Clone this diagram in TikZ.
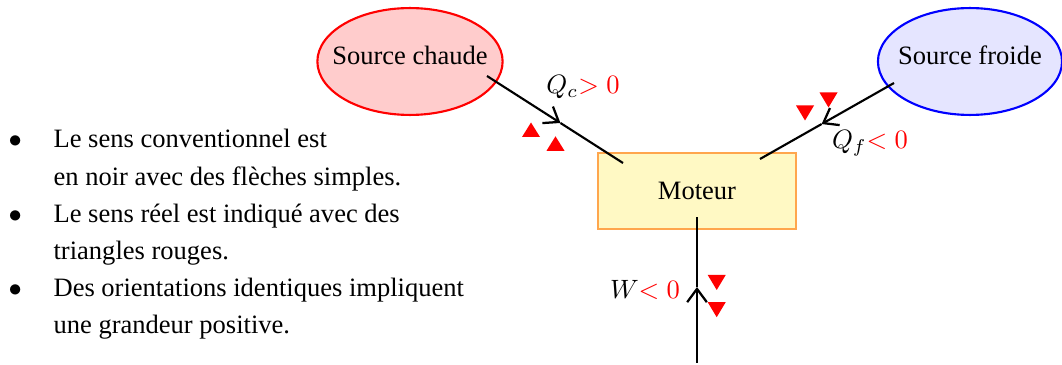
\documentclass[tikz,border=0pt]{standalone}
\usepackage[no-math]{fontspec}
\setmainfont{Liberation Serif}
\usetikzlibrary{arrows.meta,calc,shapes.geometric}
\definecolor{motfill}{RGB}{255,249,196}
\definecolor{motdraw}{RGB}{255,166,77}
\tikzset{
  x=0.377pt, y=-0.377pt,
  srcbox/.style={ellipse, thick, inner xsep=-4.6pt, inner ysep=0pt, minimum width=69.4pt, minimum height=40.3pt, text depth=4.9pt},
  motbox/.style={rectangle, thick, draw=motdraw, fill=motfill, inner sep=0pt, minimum width=74.6pt, minimum height=28.7pt},
  flowhead/.style={thick, -{Straight Barb[length=5pt,width=7.4pt,line width=0.85pt]}},
  flowtail/.style={thick},
  uptri/.pic={\fill[red] (-9,6.5) -- (9,6.5) -- (0,-8) -- cycle;},
  downtri/.pic={\fill[red] (-9,-7.5) -- (9,-7.5) -- (0,7.5) -- cycle;},
  lbl/.style={inner sep=0pt}
}
\begin{document}
\begin{tikzpicture}
\useasboundingbox (0,0) rectangle (1062,365);

\node[srcbox, draw=red, fill=red!20] (chaude) at (410,61.5) {Source chaude};
\node[srcbox, draw=blue, fill=blue!10] (froide) at (970,61.5) {Source froide};
\node[motbox] (moteur) at (697,191) {Moteur};

\coordinate (c1) at ($(chaude.center)+(77,14.5)$);
\coordinate (c2) at ($(moteur.center)+(-74,-28)$);
\coordinate (cm) at ($(c1)!0.54!(c2)$);
\coordinate (f1) at ($(froide.center)+(-76,21.5)$);
\coordinate (f2) at ($(moteur.center)+(63,-32)$);
\coordinate (fm) at ($(f1)!0.54!(f2)$);
\coordinate (w1) at (697,363);
\coordinate (w2) at ($(moteur.center)+(0,26)$);
\coordinate (wm) at (697,287);

\draw[flowtail] (cm) -- (c2);
\draw[flowhead] (c1) -- (cm);
\draw[flowtail] (fm) -- (f2);
\draw[flowhead] (f1) -- (fm);
\draw[flowtail] (wm) -- (w2);
\draw[flowhead] (w1) -- (wm);

\node[lbl] (lqc) at (583,87) {$Q_c{\color{red}>0}$};
\node[lbl] (lqf) at (870,143) {$Q_f{\color{red}<0}$};
\node[lbl] (lw) at (645,290) {$W{\color{red}<0}$};

\pic at (531,130.5) {uptri};
\pic at (555.5,144.3) {uptri};
\pic at (805,113) {downtri};
\pic at (828.5,100) {downtri};
\pic at (716.7,282.5) {downtri};
\pic at (716.7,309.7) {downtri};

\node[anchor=base west, inner sep=0pt] (list) at (8,148) {\renewcommand{\arraystretch}{1.1667}%
\begin{tabular}[t]{@{}l@{}}
\makebox[17pt][l]{$\bullet$}Le sens conventionnel est\\
\hspace*{17pt}en noir avec des flèches simples.\\
\makebox[17pt][l]{$\bullet$}Le sens réel est indiqué avec des\\
\hspace*{17pt}triangles rouges.\\
\makebox[17pt][l]{$\bullet$}Des orientations identiques impliquent\\
\hspace*{17pt}une grandeur positive.
\end{tabular}};
\end{tikzpicture}
\end{document}
